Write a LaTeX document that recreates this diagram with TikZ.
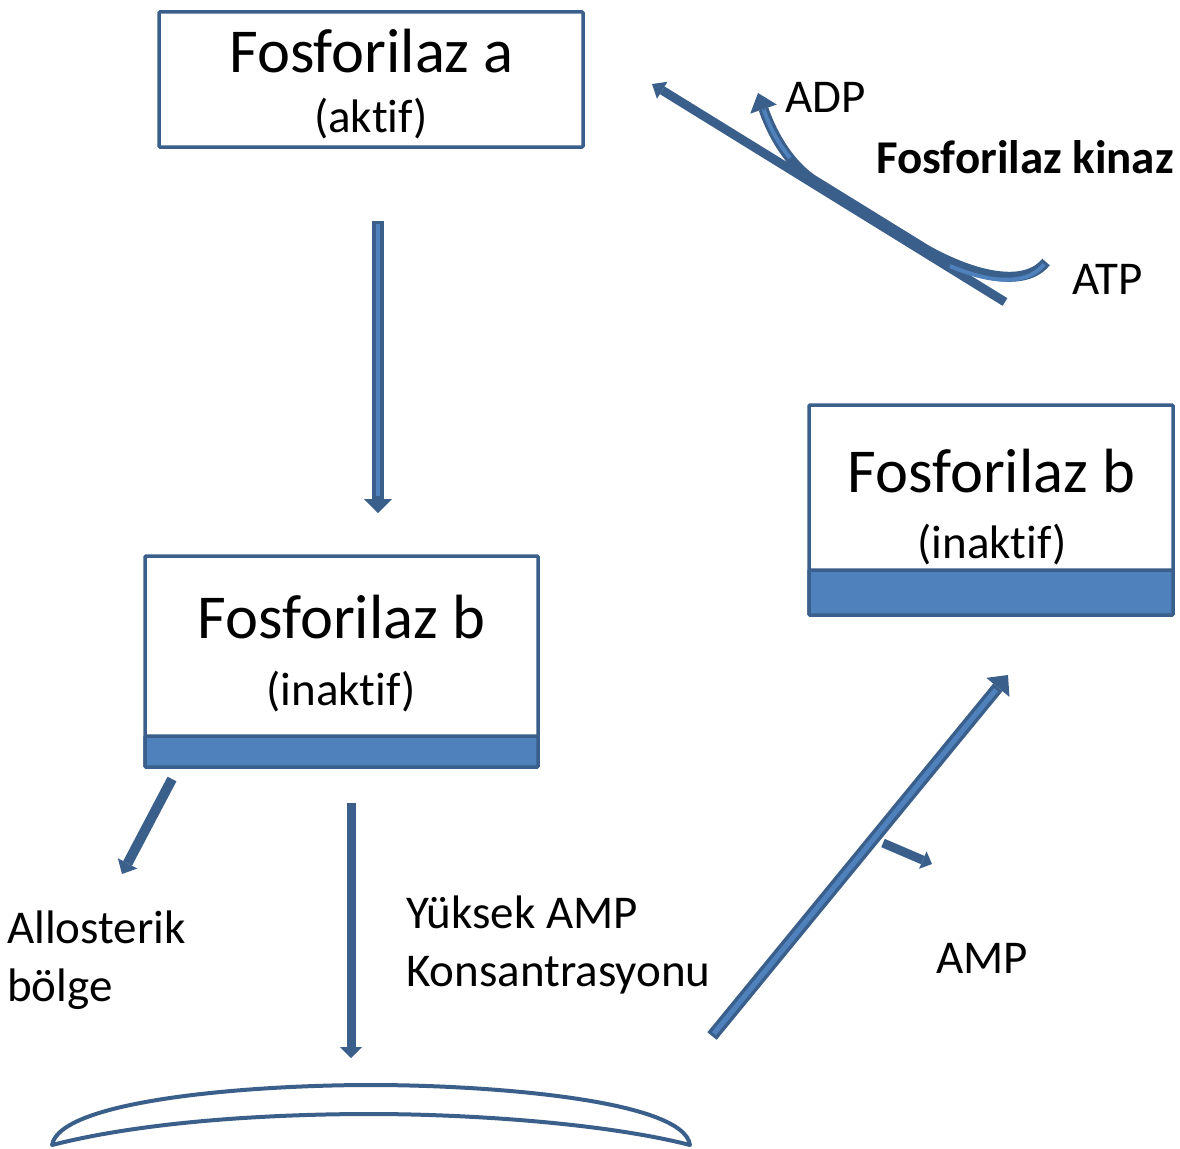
\documentclass[tikz,border=0pt]{standalone}
\usepackage{fontspec}
\setmainfont{Carlito}[Ligatures={NoCommon,NoContextual}]
\usetikzlibrary{arrows.meta}
\definecolor{dk}{HTML}{3A5F8B}
\definecolor{lt}{HTML}{4F81BD}
\tikzset{
  box/.style={draw=dk, line width=3.5pt, fill=white, rounded corners=1pt, inner sep=0pt},
  band/.style={draw=dk, line width=3.5pt, fill=lt, rounded corners=1pt, inner sep=0pt},
  big/.style={inner sep=0pt, anchor=base, font=\fontsize{62.5}{70}\selectfont},
  small/.style={inner sep=0pt, anchor=base, font=\fontsize{47}{56}\selectfont},
  lbl/.style={inner sep=0pt, anchor=base west, font=\fontsize{47}{56}\selectfont},
  shaft/.style={draw=dk, line width=#1},
  core/.style={draw=lt, line width=#1},
}
\begin{document}
\begin{tikzpicture}[x=1pt, y=-1pt]
\useasboundingbox (0,0) rectangle (1180,1148);

% enzyme boxes
\node[box, minimum width=424pt, minimum height=135pt] (fa) at (371,79.5) {};
\node[box, minimum width=393pt, minimum height=211pt] (fbl) at (341.5,661.5) {};
\node[band, minimum width=393pt, minimum height=31pt, anchor=south] (bandl) at (fbl.south) {};
\node[box, minimum width=364pt, minimum height=210pt] (fbr) at (991,510) {};
\node[band, minimum width=364pt, minimum height=45pt, anchor=south] (bandr) at (fbr.south) {};

\node[big] (ta1) at (371.5,72) {Fosforilaz a};
\node[small] (ta2) at (371,132) {(aktif)};
\node[big] (tl1) at (341.5,638) {Fosforilaz b};
\node[small] (tl2) at (341,705) {(inaktif)};
\node[big] (tr1) at (991.5,492) {Fosforilaz b};
\node[small] (tr2) at (992,558) {(inaktif)};

% free labels
\node[lbl] (adp) at (785,112) {ADP};
\node[lbl, font=\fontsize{47}{56}\selectfont\bfseries] (kin) at (876,173) {Fosforilaz kinaz};
\node[lbl] (atp) at (1072,294) {ATP};
\node[lbl] (allo1) at (7,943) {Allosterik};
\node[lbl] (allo2) at (7,1001) {bölge};
\node[lbl] (amp1) at (406,928) {Yüksek AMP};
\node[lbl] (amp2) at (406,986) {Konsantrasyonu};
\node[lbl] (amp) at (936,973) {AMP};

% arrow end points
\coordinate (a1s) at (378,221);  \coordinate (a1e) at (378,513);
\coordinate (a2s) at (172,779);  \coordinate (a2e) at (122,874);
\coordinate (a3s) at (351,803);  \coordinate (a3e) at (351,1058);
\coordinate (a4s) at (712,1036); \coordinate (a4e) at (1008,675);
\coordinate (a5s) at (883,843);  \coordinate (a5e) at (932,864);
\coordinate (k1s) at (1005,302); \coordinate (k1e) at (652,84);
\coordinate (katp) at (1046,262);
\coordinate (km1) at (926.6,250);
\coordinate (km2) at (811.6,179);
\coordinate (kadp) at (758,93);

% block arrows
\draw[shaft=12pt, -{Triangle[width=28pt,length=14pt,line width=0pt]}] (a1s) -- (a1e);
\draw[core=4pt, shorten >=17pt, shorten <=3pt] (a1s) -- (a1e);

\draw[shaft=10pt, -{Triangle[width=22pt,length=12pt,line width=0pt]}] (a2s) -- (a2e);

\draw[shaft=9pt, -{Triangle[width=22pt,length=11pt,line width=0pt]}] (a3s) -- (a3e);

\draw[shaft=12pt, -{Triangle[width=30pt,length=16pt,line width=0pt]}] (a4s) -- (a4e);
\draw[core=5pt, shorten >=19pt, shorten <=3pt] (a4s) -- (a4e);

\draw[shaft=9pt, -{Triangle[width=19pt,length=10pt,line width=0pt]}] (a5s) -- (a5e);

% kinase reaction
\draw[shaft=9pt, -{Triangle[width=20pt,length=12pt,line width=0pt]}] (k1s) -- (k1e);
\draw[shaft=10pt, -{Triangle[width=28pt,length=17pt,line width=0pt]}]
  (katp) .. controls (1025,288) and (975,277) .. (km1) -- (km2)
  .. controls (785,160) and (770,128) .. (kadp);
\draw[core=4pt, shorten <=3pt] (katp) .. controls (1025,288) and (985,281) .. (950,266);
\draw[core=4pt, shorten >=18pt] (790,158) .. controls (778,143) and (770,128) .. (kadp);

% membrane-like crescent
\draw[dk, line width=4pt, line join=round]
  (52,1145) .. controls (60,1100) and (250,1085) .. (371,1085)
  .. controls (490,1085) and (684,1100) .. (690,1145)
  .. controls (600,1122) and (460,1114) .. (371,1114)
  .. controls (280,1114) and (150,1120) .. cycle;
\end{tikzpicture}
\end{document}
